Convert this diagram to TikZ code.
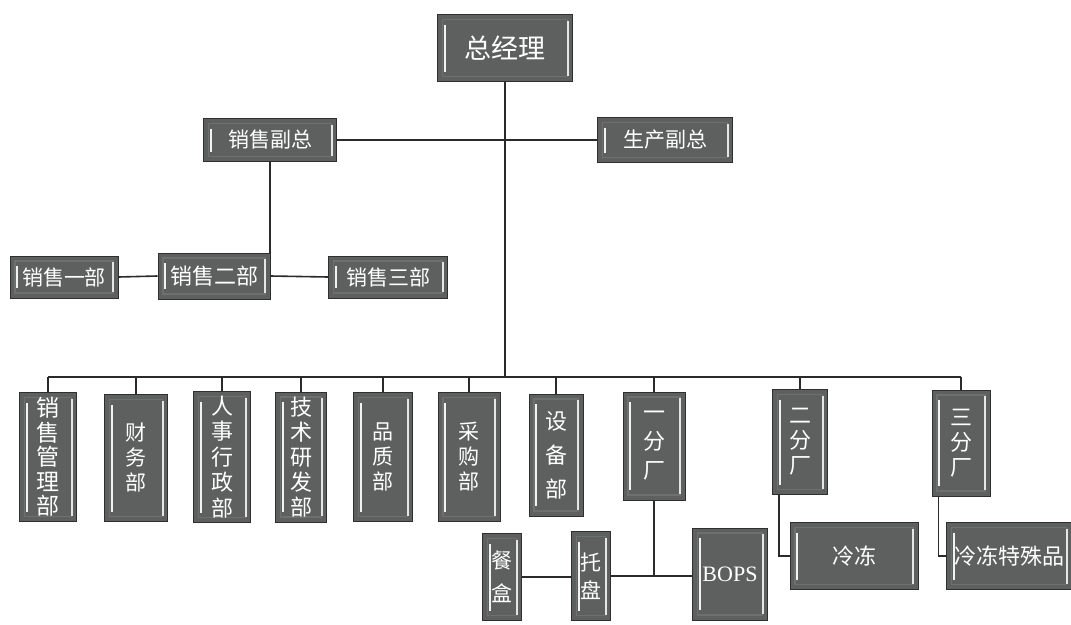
\documentclass[tikz,border=0pt]{standalone}
\usepackage{fontspec}
\newfontfamily\cjk{Noto Sans CJK SC}
\newfontfamily\lser{Liberation Serif}
\definecolor{boxfill}{HTML}{5E605F}
\definecolor{boxinner}{HTML}{6E706F}
\definecolor{boxedge}{HTML}{2E2F2E}
\definecolor{linec}{HTML}{2A2A2A}
\begin{document}
\begin{tikzpicture}[x=1pt,y=-1pt,
  box/.style={draw=boxedge, line width=1pt, fill=boxfill, inner sep=0pt,
    text=white, font=\cjk\fontsize{21}{25}\selectfont, align=center,
    path picture={
      \draw[boxinner, line width=1.2pt] ([xshift=5pt,yshift=-5pt]path picture bounding box.north west) rectangle ([xshift=-5pt,yshift=5pt]path picture bounding box.south east);
      \draw[white!90!gray, line width=2pt] ([xshift=7pt,yshift=-10pt]path picture bounding box.north west) -- ([xshift=7pt,yshift=10pt]path picture bounding box.south west);
      \draw[white!80!gray, line width=2pt] ([xshift=-5pt,yshift=-6pt]path picture bounding box.north east) -- ([xshift=-5pt,yshift=6pt]path picture bounding box.south east);
    }},
  conn/.style={draw=linec, line width=1.6pt}
]
\useasboundingbox (0,0) rectangle (1071,624);
% top
\node[box, minimum width=135pt, minimum height=67pt, font=\cjk\fontsize{27}{30}\selectfont] (zjl) at (505,48) {总经理};
\node[box, minimum width=133pt, minimum height=43pt, font=\cjk\fontsize{21}{25}\selectfont] (xsfz) at (270,140) {销售副总};
\node[box, minimum width=135pt, minimum height=45pt, font=\cjk\fontsize{21}{25}\selectfont] (scfz) at (665,140) {生产副总};
% sales depts
\node[box, minimum width=108pt, minimum height=42pt, font=\cjk\fontsize{21}{25}\selectfont] (xs1) at (64,277) {销售一部};
\node[box, minimum width=112pt, minimum height=46pt, font=\cjk\fontsize{22}{25}\selectfont] (xs2) at (214,276) {销售二部};
\node[box, minimum width=119pt, minimum height=42pt, font=\cjk\fontsize{21}{25}\selectfont] (xs3) at (388,277) {销售三部};
% bottom row
\node[box, minimum width=57pt, minimum height=129pt, font=\cjk\fontsize{23}{24.5}\selectfont] (b1) at (48,457) {销\\售\\管\\理\\部};
\node[box, minimum width=63pt, minimum height=127pt] (b2) at (136,458) {财\\务\\部};
\node[box, minimum width=57pt, minimum height=131pt, font=\cjk\fontsize{22}{25.5}\selectfont] (b3) at (222,457) {人\\事\\行\\政\\部};
\node[box, minimum width=51pt, minimum height=130pt, font=\cjk\fontsize{22}{25}\selectfont] (b4) at (301,457) {技\\术\\研\\发\\部};
\node[box, minimum width=59pt, minimum height=129pt] (b5) at (383,457) {品\\质\\部};
\node[box, minimum width=62pt, minimum height=129pt] (b6) at (469,457) {采\\购\\部};
\node[box, minimum width=54pt, minimum height=122pt, font=\cjk\fontsize{22}{34}\selectfont] (b7) at (556,455) {设\\备\\部};
\node[box, minimum width=62pt, minimum height=108pt, font=\cjk\fontsize{22}{29}\selectfont] (yfc) at (654,446) {一\\分\\厂};
\node[box, minimum width=55pt, minimum height=105pt, font=\cjk\fontsize{22}{25}\selectfont] (efc) at (800,442) {二\\分\\厂};
\node[box, minimum width=58pt, minimum height=106pt, font=\cjk\fontsize{22}{25}\selectfont] (sfc) at (961,443) {三\\分\\厂};
% sub units
\node[box, minimum width=128pt, minimum height=67pt, font=\cjk\fontsize{22}{25}\selectfont] (ld) at (854,556) {冷冻};
\node[box, minimum width=125pt, minimum height=67pt, font=\cjk\fontsize{22}{25}\selectfont] (ldts) at (1009,556) {冷冻特殊品};
\node[box, minimum width=39pt, minimum height=87pt, font=\cjk\fontsize{21}{33}\selectfont] (ch) at (502,577) {餐\\盒};
\node[box, minimum width=39pt, minimum height=89pt, font=\cjk\fontsize{21}{28}\selectfont] (tp) at (591,576) {托\\盘};
\node[box, minimum width=75pt, minimum height=92pt, font=\lser\fontsize{22}{24}\selectfont] (bops) at (730,574) {BOPS};
% bus
\coordinate (busL) at (48,377);
\coordinate (busR) at (961,377);
\draw[conn] (busL) -- (busR);
\draw[conn] (zjl.south) -- (zjl.south |- busL);
\foreach \n in {b1,b2,b3,b4,b5,b6,b7,yfc,efc,sfc}{
  \draw[conn] (\n.north) -- (\n.north |- busL);
}
% vice presidents
\draw[conn] (xsfz.east) -- (scfz.west);
\draw[conn] (xsfz.south) -- (xsfz.south |- xs2.north);
\draw[conn] (xs1.east) -- (xs2.west);
\draw[conn] (xs2.east) -- (xs3.west);
% factory 1
\coordinate (j1) at (yfc.south |- tp.east);
\draw[conn] (yfc.south) -- (j1);
\draw[conn] (tp.east) -- (tp.east -| bops.west);
\draw[conn] (ch.east) -- (ch.east -| tp.west);
% factory 2, 3
\draw[conn] ([xshift=7pt]efc.south west) |- (ld.west);
\draw[conn] ([xshift=7pt]sfc.south west) |- (ldts.west);
\end{tikzpicture}
\end{document}
